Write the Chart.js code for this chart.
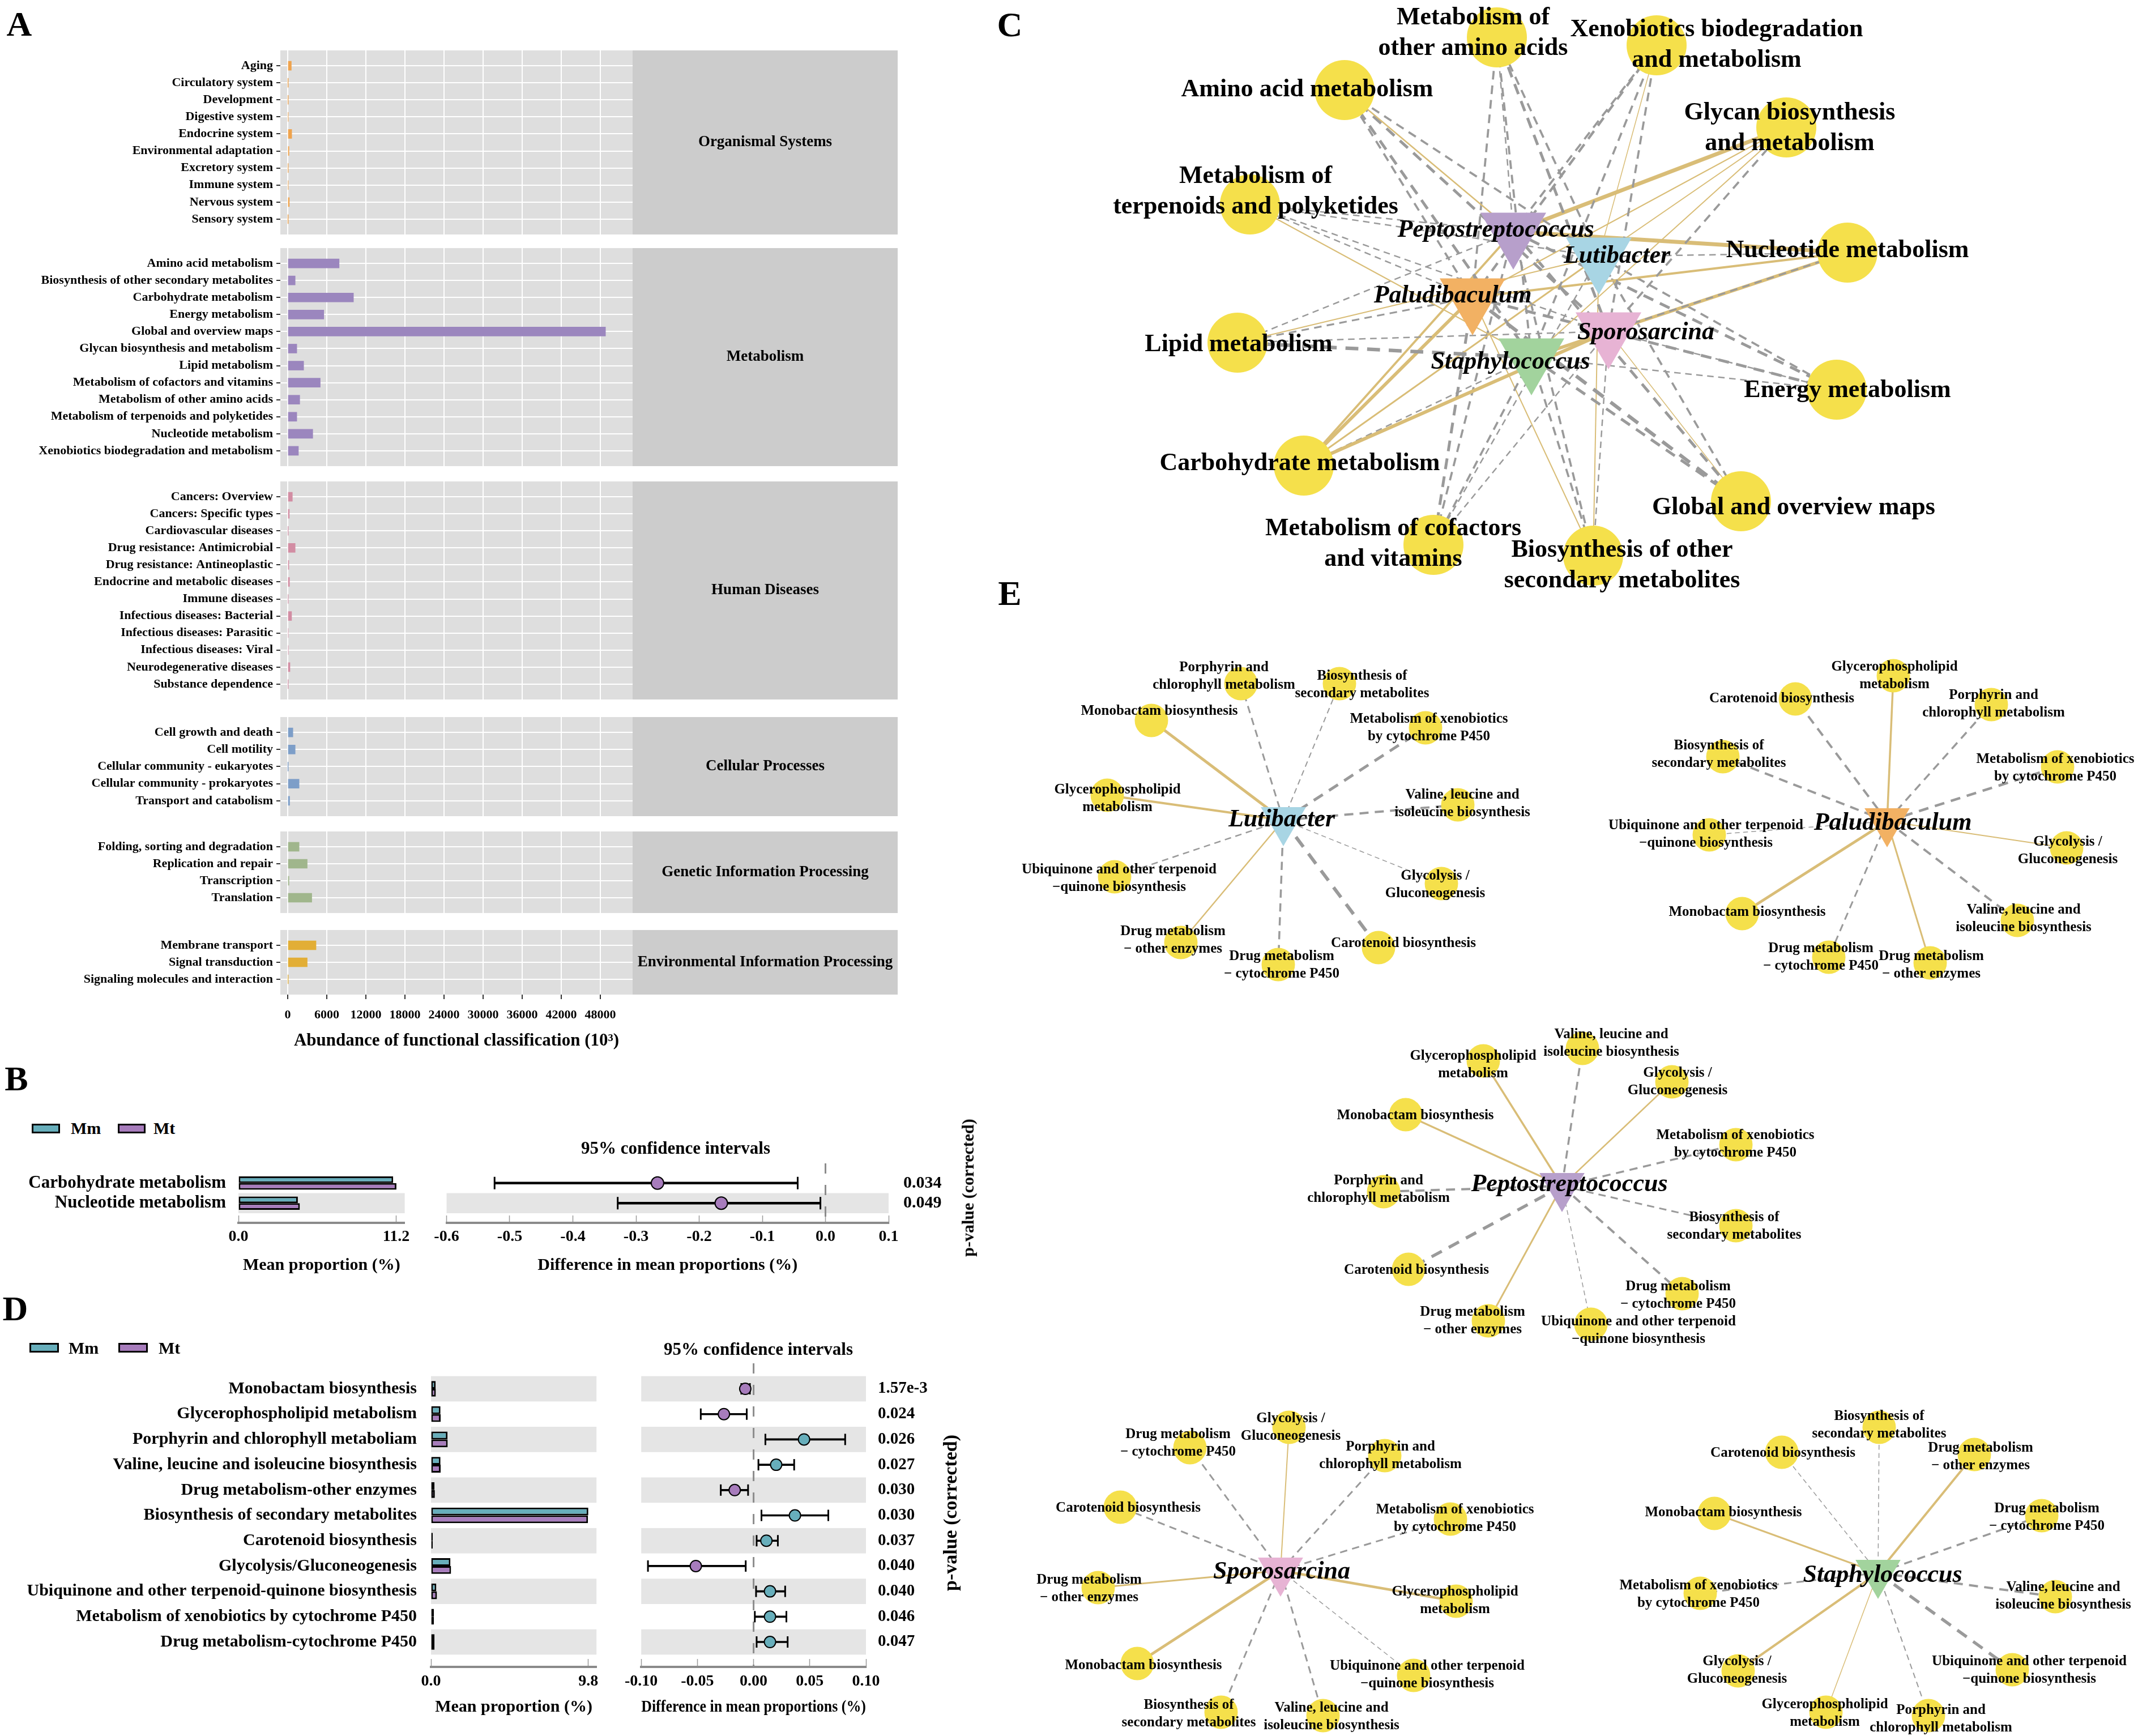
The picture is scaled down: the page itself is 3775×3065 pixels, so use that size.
<!DOCTYPE html>
<html>
<head>
<meta charset="utf-8">
<title>Functional profile</title>
<script src="https://cdn.jsdelivr.net/npm/chart.js@4.4.1/dist/chart.umd.min.js"></script>
<style>
  html, body { margin: 0; padding: 0; background: #fff; }
  body { position: relative; width: 3775px; height: 3065px; overflow: hidden; font-family: "Liberation Serif", "Times New Roman", serif; }
  canvas { position: absolute; }
  .txt { position: absolute; font-weight: bold; white-space: nowrap; line-height: 1; color: #000; }
  .key { position: absolute; box-sizing: border-box; border: 3px solid #000; }
</style>
</head>
<body>
<script>
// ---------- A: abundance of KEGG level 2 classes (10^3) ----------
const levelNames = ['Organismal Systems', 'Metabolism', 'Human Diseases', 'Cellular Processes', 'Genetic Information Processing', 'Environmental Information Processing'];
const orgLabels = ['Aging', 'Circulatory system', 'Development', 'Digestive system', 'Endocrine system', 'Environmental adaptation', 'Excretory system', 'Immune system', 'Nervous system', 'Sensory system'];
const orgValues = [560, 20, 30, 60, 620, 200, 40, 60, 250, 20];
const metLabels = ['Amino acid metabolism', 'Biosynthesis of other secondary metabolites', 'Carbohydrate metabolism', 'Energy metabolism', 'Global and overview maps', 'Glycan biosynthesis and metabolism', 'Lipid metabolism', 'Metabolism of cofactors and vitamins', 'Metabolism of other amino acids', 'Metabolism of terpenoids and polyketides', 'Nucleotide metabolism', 'Xenobiotics biodegradation and metabolism'];
const metValues = [7900, 1150, 10100, 5550, 48800, 1400, 2450, 5000, 1850, 1400, 3850, 1650];
const humLabels = ['Cancers: Overview', 'Cancers: Specific types', 'Cardiovascular diseases', 'Drug resistance: Antimicrobial', 'Drug resistance: Antineoplastic', 'Endocrine and metabolic diseases', 'Immune diseases', 'Infectious diseases: Bacterial', 'Infectious diseases: Parasitic', 'Infectious diseases: Viral', 'Neurodegenerative diseases', 'Substance dependence'];
const humValues = [720, 250, 40, 1150, 180, 280, 50, 600, 80, 100, 350, 40];
const celLabels = ['Cell growth and death', 'Cell motility', 'Cellular community - eukaryotes', 'Cellular community - prokaryotes', 'Transport and catabolism'];
const celValues = [800, 1150, 20, 1750, 300];
const genLabels = ['Folding, sorting and degradation', 'Replication and repair', 'Transcription', 'Translation'];
const genValues = [1750, 3000, 200, 3700];
const envLabels = ['Membrane transport', 'Signal transduction', 'Signaling molecules and interaction'];
const envValues = [4350, 3000, 30];
const abundanceTicks = [0, 6000, 12000, 18000, 24000, 30000, 36000, 42000, 48000];

// ---------- B: STAMP, level 2 ----------
const bLabels = ['Carbohydrate metabolism', 'Nucleotide metabolism'];
const bMm = [10.99, 4.22];
const bMt = [11.22, 4.36];
const bDiff = [-0.266, -0.165];
const bLow = [-0.524, -0.329];
const bHigh = [-0.044, -0.008];
const bP = ['0.034', '0.049'];
const bMeanTicks = [0, 11.2];
const bDiffTicks = [-0.6, -0.5, -0.4, -0.3, -0.2, -0.1, 0, 0.1];

// ---------- D: STAMP, level 3 ----------
const dLabels = ['Monobactam biosynthesis', 'Glycerophospholipid metabolism', 'Porphyrin and chlorophyll metaboliam', 'Valine, leucine and isoleucine biosynthesis', 'Drug metabolism-other enzymes', 'Biosynthesis of secondary metabolites', 'Carotenoid biosynthesis', 'Glycolysis/Gluconeogenesis', 'Ubiquinone and other terpenoid-quinone biosynthesis', 'Metabolism of xenobiotics by cytochrome P450', 'Drug metabolism-cytochrome P450'];
const dMm = [0.29, 0.59, 1.03, 0.59, 0.22, 9.80, 0.11, 1.21, 0.33, 0.18, 0.22];
const dMt = [0.30, 0.60, 1.04, 0.60, 0.24, 9.78, 0.11, 1.25, 0.37, 0.18, 0.22];
const dDiff = [-0.0074, -0.0264, 0.0449, 0.0201, -0.0168, 0.0368, 0.0114, -0.0514, 0.0146, 0.0146, 0.0146];
const dLow = [-0.0109, -0.0470, 0.0105, 0.0043, -0.0292, 0.0070, 0.0027, -0.0940, 0.0022, 0.0011, 0.0027];
const dHigh = [-0.0033, -0.0061, 0.0815, 0.0361, -0.0049, 0.0665, 0.0216, -0.0070, 0.0281, 0.0292, 0.0303];
const dP = ['1.57e-3', '0.024', '0.026', '0.027', '0.030', '0.030', '0.037', '0.040', '0.040', '0.046', '0.047'];
const dMeanTicks = [0, 9.8];
const dDiffTicks = [-0.1, -0.05, 0, 0.05, 0.1];

// ---------- C: genus / level 2 correlation network ----------
const cTaxa = ['Peptostreptococcus', 'Lutibacter', 'Paludibaculum', 'Sporosarcina', 'Staphylococcus'];
const cFunctions = ['Amino acid metabolism', 'Metabolism of\nother amino acids', 'Xenobiotics biodegradation\nand metabolism', 'Glycan biosynthesis\nand metabolism', 'Metabolism of\nterpenoids and polyketides', 'Nucleotide metabolism', 'Lipid metabolism', 'Energy metabolism', 'Carbohydrate metabolism', 'Global and overview maps', 'Metabolism of cofactors\nand vitamins', 'Biosynthesis of other\nsecondary metabolites'];
// signed correlation strength, columns follow cTaxa (positive = solid, negative = dashed)
const cWeights = [
  [2.5, -3, -3, -4, -4],
  [-2, -3, -3, -4, -3],
  [-3, 1.5, -3.5, -3, -3],
  [7, 2, 2, -3, 2],
  [-2, -2, -2, -2, 2],
  [7, -2, 4, -2.5, 6],
  [-2, 2, -2.5, -2, -5],
  [-4, -3, -4, -2, -2],
  [4, 3, 6, 6, -2],
  [-4, -3, -5, 1.5, -4],
  [-3, -2, -4, -2, -3],
  [-3, 2, 2, -2, -3]
];
// layout of the network (layout units)
const cNodeX = [2374, 2643, 2925, 3154, 2207, 3262, 2185, 3243, 2302, 3074, 2531, 2813];
const cNodeY = [159, 66, 80, 225, 361, 446, 605, 688, 822, 885, 962, 981];
const cTaxaX = [2672, 2823, 2600, 2840, 2704];
const cTaxaY = [409, 453, 525, 585, 631];
const cLabelDX = [-66, -42, 106, 6, 10, 0, 2, 19, -7, 93, -71, 51];
const cLabelDY = [0, -7, 0, 2, -22, -3, 4, 2, -3, 12, -1, 18];
const cTaxaLabelDX = [-31, 32, -35, 66, -37];
const cTaxaLabelDY = [-2, 0, -2, 3, 9];

// ---------- E: genus / level 3 correlation networks ----------
const eTaxa = ['Lutibacter', 'Paludibaculum', 'Peptostreptococcus', 'Sporosarcina', 'Staphylococcus'];
const eFunctions = ['Monobactam biosynthesis', 'Glycerophospholipid\nmetabolism', 'Porphyrin and\nchlorophyll metabolism', 'Valine, leucine and\nisoleucine biosynthesis', 'Drug metabolism\n\u2212 other enzymes', 'Biosynthesis of\nsecondary metabolites', 'Carotenoid biosynthesis', 'Glycolysis /\nGluconeogenesis', 'Ubiquinone and other terpenoid\n\u2212quinone biosynthesis', 'Metabolism of xenobiotics\nby cytochrome P450', 'Drug metabolism\n\u2212 cytochrome P450'];
const eWeights = [
  [5, 4, -3, -4, 2.5, -2, -6, -1.5, -2.5, -5, -3.5],
  [5, 3.5, -3.5, -4, 3, -4, -4, 2, -1.5, -4.5, -3],
  [3.5, 3.5, -4, -3.5, 3, -3, -5.5, 2.5, -1.5, -3.5, -4],
  [5, 4.5, -3, -3, 3, -3, -3, 2, -1.5, -3, -3],
  [3, 1.5, -2, -4, 4, -1.5, -1.5, 4, -5.5, -3, -3.5]
];
const eHubX = [2266, 3332, 2758, 2261, 3316];
const eHubY = [1448, 1450, 2094, 2773, 2777];
const eNodeX = [
  [2033, 1955, 2191, 2574, 2085, 2365, 2434, 2545, 1968, 2517, 2257],
  [3076, 3343, 3516, 3562, 3408, 3042, 3170, 3649, 3018, 3633, 3229],
  [2482, 2619, 2443, 2794, 2628, 3065, 2487, 2952, 2809, 3065, 2970],
  [2008, 2571, 2445, 2336, 1939, 2156, 1978, 2276, 2496, 2561, 2101],
  [3027, 3224, 3405, 3629, 3486, 3318, 3146, 3069, 3553, 3002, 3605]
];
const eNodeY = [
  [1272, 1404, 1207, 1421, 1664, 1207, 1673, 1560, 1548, 1285, 1703],
  [1613, 1193, 1244, 1625, 1700, 1336, 1234, 1497, 1474, 1354, 1690],
  [1968, 1873, 2104, 1851, 2332, 2164, 2241, 1910, 2338, 2021, 2284],
  [2937, 2827, 2570, 3029, 2803, 3023, 2661, 2520, 2958, 2682, 2556],
  [2672, 3023, 3029, 2819, 2568, 2520, 2564, 2950, 2948, 2813, 2676]
];
const eLabelDX = [
  [14, 18, -30, 8, -14, 40, 44, -11, 8, 6, 6],
  [9, 2, 4, 11, 2, -7, -24, 2, -6, -4, -14],
  [17, -18, -9, 51, -28, -3, 14, 10, 84, -1, -7],
  [11, -2, 10, 15, -16, -57, 14, 3, 24, 8, -21],
  [16, -2, 22, 14, 11, 0, 2, -2, 30, -3, 9]
];
const eLabelDY = [
  [-16, 6, -13, -2, -4, 2, -7, 2, 3, 0, 1],
  [-2, 0, -1, -3, 4, -4, 0, 5, -1, 2, 0],
  [2, 7, -4, -9, 0, 1, 2, 0, 11, -1, 3],
  [4, -1, 0, 2, 2, 3, 2, 0, -1, -1, -8],
  [-1, 2, 6, -1, 4, -4, 2, -1, 1, 2, 3]
];
const eTaxaLabelDX = [-3, 10, 13, 2, 8];
const eTaxaLabelDY = [0, 4, -2, 3, 5];

// ---------- styling ----------
const SERIF = '"Liberation Serif", "Times New Roman", serif';
const TEAL = '#67AEBB', PURPLE = '#A77CBC';
const YELLOW = '#F5E04B', EDGE_POS = '#D9BD77', EDGE_NEG = '#9A9A9A';
const TAXON_COLOUR = { Peptostreptococcus: '#B79FCB', Lutibacter: '#A8D5E4', Paludibaculum: '#F2B163', Sporosarcina: '#E7B3D4', Staphylococcus: '#A2D39D' };
const FACET_COLOUR = ['#EFA34D', '#9B86BE', '#D28DA3', '#7D9EC8', '#A0B68C', '#E2AE36'];

Chart.defaults.font.family = SERIF;
Chart.defaults.font.weight = 'bold';
Chart.defaults.color = '#000';
Chart.defaults.animation = false;
Chart.defaults.responsive = false;
Chart.defaults.events = [];
Chart.defaults.layout.autoPadding = false;
Chart.defaults.plugins.legend.display = false;
Chart.defaults.plugins.tooltip.enabled = false;

// vertical axes must not push the plot area away from the edges
const noEdgePad = s => { s.paddingTop = 0; s.paddingBottom = 0; };

function addCanvas(left, top, w, h) {
  const c = document.createElement('canvas');
  c.width = w;
  c.height = h;
  c.style.left = left + 'px';
  c.style.top = top + 'px';
  c.style.width = w + 'px';
  c.style.height = h + 'px';
  document.body.appendChild(c);
  return c;
}

function addText(text, x, y, size, opt) {
  opt = opt || {};
  const el = document.createElement('div');
  el.className = 'txt';
  el.textContent = text;
  el.style.left = x + 'px';
  el.style.top = y + 'px';
  el.style.fontSize = size + 'px';
  const tx = opt.left ? '0' : '-50%';
  el.style.transform = 'translate(' + tx + ', -50%)' + (opt.rotate ? ' rotate(' + opt.rotate + 'deg)' : '');
  document.body.appendChild(el);
}

function addKey(x, y, w, h, colour) {
  const el = document.createElement('div');
  el.className = 'key';
  el.style.left = x + 'px';
  el.style.top = y + 'px';
  el.style.width = w + 'px';
  el.style.height = h + 'px';
  el.style.background = colour;
  document.body.appendChild(el);
}

// ================= A =================
function facetPlugin(name) {
  return {
    id: 'facet',
    beforeDraw(chart) {
      const { ctx, chartArea: a } = chart;
      ctx.save();
      ctx.fillStyle = '#DEDEDE';
      ctx.fillRect(a.left, a.top, a.right - a.left, a.bottom - a.top);
      ctx.fillStyle = '#CCCCCC';
      ctx.fillRect(a.right, a.top, 468, a.bottom - a.top);
      ctx.fillStyle = '#000';
      ctx.font = 'bold 27px ' + SERIF;
      ctx.textAlign = 'center';
      ctx.textBaseline = 'middle';
      ctx.fillText(name, a.right + 234, (a.top + a.bottom) / 2);
      ctx.restore();
    }
  };
}

const facets = [
  { labels: orgLabels, values: orgValues, top: 89 },
  { labels: metLabels, values: metValues, top: 438 },
  { labels: humLabels, values: humValues, top: 850 },
  { labels: celLabels, values: celValues, top: 1266 },
  { labels: genLabels, values: genValues, top: 1468 },
  { labels: envLabels, values: envValues, top: 1642 }
];
const ROW_A = 30.1;

facets.forEach((f, k) => {
  const last = k === facets.length - 1;
  const n = f.labels.length;
  const plotH = Math.round((n + 0.8) * ROW_A);
  const cv = addCanvas(0, f.top, 1590, plotH + (last ? 110 : 0));
  new Chart(cv, {
    type: 'bar',
    data: {
      datasets: [{
        indexAxis: 'y',
        data: f.values.map((v, i) => ({ x: v, y: i })),
        backgroundColor: FACET_COLOUR[k],
        barThickness: 16
      }]
    },
    options: {
      layout: { padding: { right: 473 } },
      scales: {
        x: {
          type: 'linear', min: -1130, max: 52960, offset: false,
          afterBuildTicks: s => { s.ticks = abundanceTicks.map(v => ({ value: v })); },
          afterFit: s => { s.height = last ? 110 : 0; },
          grid: { color: '#FFFFFF', lineWidth: 2, offset: false, drawTicks: last, tickLength: 8, tickColor: '#333', tickWidth: 2 },
          border: { display: false },
          ticks: { display: last, autoSkip: false, maxRotation: 0, font: { size: 22 }, padding: 15, callback: v => String(v) },
          title: { display: last, text: 'Abundance of functional classification (10\u00b3)', font: { size: 31 }, padding: { top: 0, bottom: 9 } }
        },
        y: {
          type: 'linear', reverse: true, min: -0.9, max: n - 0.1, offset: false,
          afterBuildTicks: s => { s.ticks = f.labels.map((l, i) => ({ value: i })); },
          afterFit: s => { s.width = 495; noEdgePad(s); },
          grid: { color: '#FFFFFF', lineWidth: 2, offset: false, tickLength: 7, tickColor: '#333', tickWidth: 2 },
          border: { display: false },
          ticks: { autoSkip: false, font: { size: 22 }, padding: 6, callback: v => f.labels[v] }
        }
      }
    },
    plugins: [facetPlugin(levelNames[k])]
  });
});

// ================= B & D =================
function stampPanel(g, d) {
  const rows = d.labels.map((l, i) => i);
  const rowTicks = s => { s.ticks = rows.map(v => ({ value: v })); };
  const bandPlugin = {
    id: 'bands',
    beforeDatasetsDraw(chart) {
      const { ctx, chartArea: a, scales: { y } } = chart;
      ctx.save();
      ctx.fillStyle = '#E5E5E5';
      rows.forEach(i => {
        if ((i % 2 === 1) !== g.bandOdd) return;
        const y0 = y.getPixelForValue(i - 0.5), y1 = y.getPixelForValue(i + 0.5);
        ctx.fillRect(a.left, Math.min(y0, y1), a.right - a.left, Math.abs(y1 - y0));
      });
      ctx.restore();
    }
  };
  const xAxis = (min, max, ticks, dec, title) => ({
    type: 'linear', min: min, max: max, offset: false,
    afterBuildTicks: s => { s.ticks = ticks.map(v => ({ value: v })); },
    afterFit: s => { s.height = g.axisH; },
    grid: { drawOnChartArea: false, drawTicks: true, offset: false, tickLength: -g.tickLen, tickColor: '#9A9A9A', tickWidth: 1.5 },
    border: { display: true, color: '#8A8A8A', width: 4 },
    ticks: { autoSkip: false, maxRotation: 0, font: { size: 28 }, padding: g.tickPad, callback: v => Number(v).toFixed(dec) },
    title: { display: true, text: title, font: { size: 30 }, padding: { top: 0, bottom: g.titlePad } }
  });
  const yAxis = (width, extra) => Object.assign({
    type: 'linear', reverse: true, min: g.yMin, max: g.yMax, offset: false,
    afterBuildTicks: rowTicks,
    afterFit: s => { s.width = width; noEdgePad(s); },
    grid: { display: false, offset: false },
    border: { display: false }
  }, extra);

  // mean proportion bars
  const c1 = addCanvas(0, g.top, g.barW, g.height);
  const barStyle = { indexAxis: 'y', borderColor: '#000', borderWidth: 3, borderSkipped: false, barPercentage: 1, categoryPercentage: g.barPct };
  new Chart(c1, {
    type: 'bar',
    data: {
      datasets: [
        Object.assign({ label: 'Mm', data: d.mm.map((v, i) => ({ x: v, y: i })), backgroundColor: TEAL }, barStyle),
        Object.assign({ label: 'Mt', data: d.mt.map((v, i) => ({ x: v, y: i })), backgroundColor: PURPLE }, barStyle)
      ]
    },
    options: {
      layout: { padding: { top: g.padTop, right: g.barPadR } },
      scales: {
        x: xAxis(0, g.barMax, d.meanTicks, 1, 'Mean proportion (%)'),
        y: yAxis(g.labelW, {
          ticks: { autoSkip: false, font: { size: g.labelFont }, padding: g.labelPad, callback: v => d.labels[v] }
        })
      }
    },
    plugins: [bandPlugin]
  });

  // difference with 95% CI
  const c2 = addCanvas(g.ciLeft, g.top, g.ciW, g.height);
  new Chart(c2, {
    type: 'bar',
    data: {
      datasets: [
        { type: 'scatter', data: d.diff.map((v, i) => ({ x: v, y: i })), pointRadius: g.ptR, pointBackgroundColor: d.diff.map(v => v > 0 ? TEAL : PURPLE), pointBorderColor: '#000', pointBorderWidth: 2, order: 0, clip: false },
        { type: 'scatter', data: d.low.map((v, i) => ({ x: v, y: i })).concat(d.high.map((v, i) => ({ x: v, y: i }))), pointStyle: 'line', pointRotation: 90, pointRadius: g.capR, pointBorderColor: '#000', pointBorderWidth: 3, order: 1, clip: false },
        { indexAxis: 'y', data: d.low.map((v, i) => ({ x: [v, d.high[i]], y: i })), backgroundColor: '#000', barThickness: g.lineW, order: 2 },
        { type: 'line', data: [{ x: 0, y: g.yMin }, { x: 0, y: g.yMax }], borderColor: '#8C8C8C', borderWidth: 3, borderDash: [18, 20], pointRadius: 0, order: 3 }
      ]
    },
    options: {
      layout: { padding: { top: g.padTop, left: g.ciPadL } },
      scales: {
        x: xAxis(g.ciMin, g.ciMax, d.diffTicks, g.ciDec, 'Difference in mean proportions (%)'),
        y: yAxis(g.pW, {
          position: 'right',
          ticks: { autoSkip: false, font: { size: g.pFont }, padding: g.pPad, callback: v => d.pvals[v] }
        })
      }
    },
    plugins: [bandPlugin]
  });
}

stampPanel(
  { top: 2040, height: 230, padTop: 14, axisH: 111, yMin: -0.979, yMax: 1.979, bandOdd: true,
    barW: 745, labelW: 421, barPadR: 16, barMax: 11.81, labelFont: 31,
    ciLeft: 745, ciW: 960, ciPadL: 43.5, pW: 136, ciMin: -0.6, ciMax: 0.1, ciDec: 1,
    tickLen: 13, tickPad: 21, titlePad: 18, barPct: 0.66, lineW: 4, capR: 11, ptR: 11, labelPad: 14, pPad: 18, pFont: 30 },
  { labels: bLabels, mm: bMm, mt: bMt, diff: bDiff, low: bLow, high: bHigh, pvals: bP, meanTicks: bMeanTicks, diffTicks: bDiffTicks }
);
stampPanel(
  { top: 2395, height: 670, padTop: 12, axisH: 122, yMin: -1.007, yMax: 10.984, bandOdd: false,
    barW: 1080, labelW: 761, barPadR: 15, barMax: 10.31, labelFont: 30,
    ciLeft: 1080, ciW: 640, ciPadL: 48, pW: 191, ciMin: -0.1, ciMax: 0.1, ciDec: 2,
    tickLen: 14, tickPad: 23, titlePad: 33, barPct: 0.62, lineW: 3, capR: 10, ptR: 10, labelPad: 17, pPad: 13, pFont: 29 },
  { labels: dLabels, mm: dMm, mt: dMt, diff: dDiff, low: dLow, high: dHigh, pvals: dP, meanTicks: dMeanTicks, diffTicks: dDiffTicks }
);

// ================= C & E =================
function labelPlugin(items) {
  return {
    id: 'nodeText',
    afterDatasetsDraw(chart) {
      const { ctx, scales: { x, y } } = chart;
      ctx.save();
      ctx.fillStyle = '#000';
      ctx.textAlign = 'center';
      ctx.textBaseline = 'middle';
      items.forEach(it => {
        ctx.font = it.font;
        const lines = it.text.split('\n');
        const px = x.getPixelForValue(it.x), py = y.getPixelForValue(it.y);
        lines.forEach((t, k) => ctx.fillText(t, px, py + (k - (lines.length - 1) / 2) * it.lh));
      });
      ctx.restore();
    }
  };
}

// negScale widens the dashed (negative) edges of the dense network
function edge(x1, y1, x2, y2, w, negScale) {
  const a = w > 0 ? w : -w * (negScale || 1);
  return {
    type: 'line',
    data: [{ x: x1, y: y1 }, { x: x2, y: y2 }],
    borderColor: w > 0 ? EDGE_POS : EDGE_NEG,
    borderWidth: a,
    borderDash: w > 0 ? [] : [3 * a + 4, 2 * a + 3],
    pointRadius: 0,
    pointHitRadius: 0,
    fill: false,
    order: 3,
    clip: false
  };
}

function networkChart(left, top, w, h, datasets, items) {
  const cv = addCanvas(left, top, w, h);
  new Chart(cv, {
    type: 'scatter',
    data: { datasets: datasets },
    options: {
      layout: { padding: 0, autoPadding: false },
      scales: {
        x: { type: 'linear', min: left, max: left + w, display: false },
        y: { type: 'linear', min: top, max: top + h, reverse: true, display: false }
      }
    },
    plugins: [labelPlugin(items)]
  });
}

// C
const cSets = [];
const cItems = [];
cFunctions.forEach((name, i) => {
  cTaxa.forEach((t, j) => cSets.push(edge(cTaxaX[j], cTaxaY[j], cNodeX[i], cNodeY[i], cWeights[i][j], 1.25)));
  cItems.push({ text: name, x: cNodeX[i] + cLabelDX[i], y: cNodeY[i] + cLabelDY[i], font: 'bold 44px ' + SERIF, lh: 54 });
});
cSets.push({ type: 'scatter', data: cNodeX.map((x, i) => ({ x: x, y: cNodeY[i] })), pointRadius: 53, pointBackgroundColor: YELLOW, pointBorderWidth: 0, order: 2, clip: false });
cSets.push({ type: 'scatter', data: cTaxaX.map((x, i) => ({ x: x, y: cTaxaY[i] })), pointStyle: 'triangle', pointRotation: 180, pointRadius: 67, pointBackgroundColor: cTaxa.map(t => TAXON_COLOUR[t]), pointBorderWidth: 0, order: 1, clip: false });
cTaxa.forEach((t, j) => cItems.push({ text: t, x: cTaxaX[j] + cTaxaLabelDX[j], y: cTaxaY[j] + cTaxaLabelDY[j], font: 'italic bold 44px ' + SERIF, lh: 54 }));
networkChart(1780, 0, 1995, 1070, cSets, cItems);

// E
const eSets = [];
const eItems = [];
eTaxa.forEach((t, k) => {
  eFunctions.forEach((name, i) => {
    eSets.push(edge(eHubX[k], eHubY[k], eNodeX[k][i], eNodeY[k][i], eWeights[k][i], 1));
    eItems.push({ text: name, x: eNodeX[k][i] + eLabelDX[k][i], y: eNodeY[k][i] + eLabelDY[k][i], font: 'bold 25px ' + SERIF, lh: 31 });
  });
  eSets.push({ type: 'scatter', data: eNodeX[k].map((x, i) => ({ x: x, y: eNodeY[k][i] })), pointRadius: 29.5, pointBackgroundColor: YELLOW, pointBorderWidth: 0, order: 2, clip: false });
});
eSets.push({ type: 'scatter', data: eHubX.map((x, k) => ({ x: x, y: eHubY[k] })), pointStyle: 'triangle', pointRotation: 180, pointRadius: 46, pointBackgroundColor: eTaxa.map(t => TAXON_COLOUR[t]), pointBorderWidth: 0, order: 1, clip: false });
eTaxa.forEach((t, k) => eItems.push({ text: t, x: eHubX[k] + eTaxaLabelDX[k], y: eHubY[k] + eTaxaLabelDY[k], font: 'italic bold 44px ' + SERIF, lh: 54 }));
networkChart(1780, 1070, 1995, 1995, eSets, eItems);

// ================= annotations =================
addText('A', 34, 42, 62);
addText('B', 29, 1904, 62);
addText('C', 1783, 43, 62);
addText('D', 27, 2310, 62);
addText('E', 1783, 1047, 62);

addKey(56, 1984, 50, 17, TEAL);
addText('Mm', 125, 1992, 30, { left: true });
addKey(208, 1984, 49, 17, PURPLE);
addText('Mt', 271, 1992, 30, { left: true });
addText('95% confidence intervals', 1193, 2026, 31);
addText('p-value (corrected)', 1709, 2097, 30, { rotate: -90 });

addKey(52, 2371, 52, 17, TEAL);
addText('Mm', 121, 2380, 30, { left: true });
addKey(209, 2371, 52, 17, PURPLE);
addText('Mt', 280, 2380, 30, { left: true });
addText('95% confidence intervals', 1339, 2381, 31);
addText('p-value (corrected)', 1678, 2671, 34, { rotate: -90 });
</script>
</body>
</html>
